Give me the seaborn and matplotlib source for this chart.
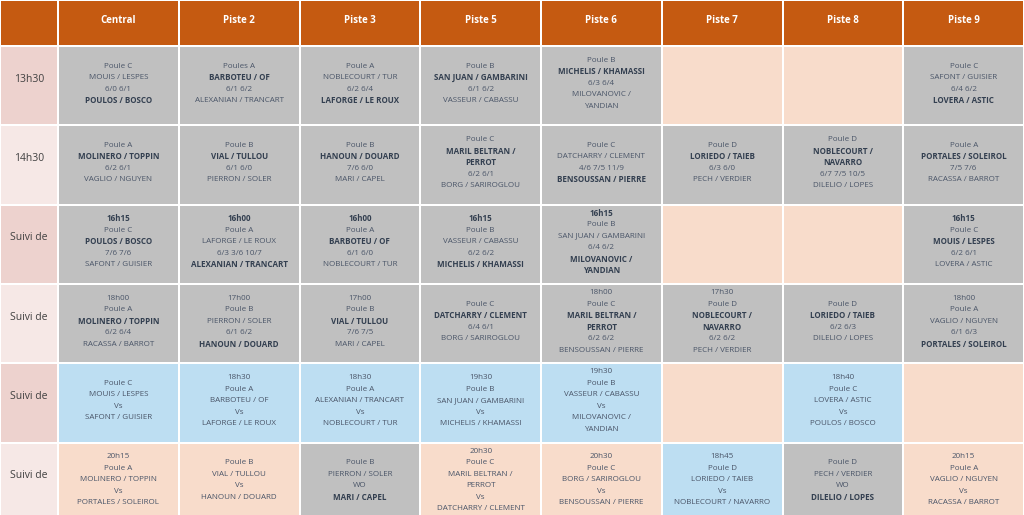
import numpy as np
import pandas as pd
import matplotlib
matplotlib.use("Agg")
import matplotlib.pyplot as plt
from matplotlib.colors import ListedColormap
import seaborn as sns

sns.set_theme(style="white")
plt.rcParams['font.family'] = ['Open Sans', 'DejaVu Sans']

columns = ["Central", "Piste 2", "Piste 3", "Piste 5", "Piste 6", "Piste 7", "Piste 8", "Piste 9"]
row_labels = ["13h30", "14h30", "Suivi de", "Suivi de", "Suivi de", "Suivi de"]

# cell colour codes: 0 grey (played), 1 peach (free / to play), 2 blue (scheduled)
cell_codes = [
    [0, 0, 0, 0, 0, 1, 1, 0],
    [0, 0, 0, 0, 0, 0, 0, 0],
    [0, 0, 0, 0, 0, 1, 1, 0],
    [0, 0, 0, 0, 0, 0, 0, 0],
    [2, 2, 2, 2, 2, 1, 2, 1],
    [1, 1, 0, 1, 1, 2, 0, 1],
]

# "*" prefix marks bold lines
row1 = [
    ["Poule C", "MOUIS / LESPES", "6/0 6/1", "*POULOS / BOSCO"],
    ["Poules A", "*BARBOTEU / OF", "6/1 6/2", "ALEXANIAN / TRANCART"],
    ["Poule A", "NOBLECOURT / TUR", "6/2 6/4", "*LAFORGE / LE ROUX"],
    ["Poule B", "*SAN JUAN / GAMBARINI", "6/1 6/2", "VASSEUR / CABASSU"],
    ["Poule B", "*MICHELIS / KHAMASSI", "6/3 6/4", "MILOVANOVIC /", "YANDIAN"],
    [],
    [],
    ["Poule C", "SAFONT / GUISIER", "6/4 6/2", "*LOVERA / ASTIC"],
]
row2 = [
    ["Poule A", "*MOLINERO / TOPPIN", "6/2 6/1", "VAGLIO / NGUYEN"],
    ["Poule B", "*VIAL / TULLOU", "6/1 6/0", "PIERRON / SOLER"],
    ["Poule B", "*HANOUN / DOUARD", "7/6 6/0", "MARI / CAPEL"],
    ["Poule C", "*MARIL BELTRAN /", "*PERROT", "6/2 6/1", "BORG / SARIROGLOU"],
    ["Poule C", "DATCHARRY / CLEMENT", "4/6 7/5 11/9", "*BENSOUSSAN / PIERRE"],
    ["Poule D", "*LORIEDO / TAIEB", "6/3 6/0", "PECH / VERDIER"],
    ["Poule D", "*NOBLECOURT /", "*NAVARRO", "6/7 7/5 10/5", "DILELIO / LOPES"],
    ["Poule A", "*PORTALES / SOLEIROL", "7/5 7/6", "RACASSA / BARROT"],
]
row3 = [
    ["*16h15", "Poule C", "*POULOS / BOSCO", "7/6 7/6", "SAFONT / GUISIER"],
    ["*16h00", "Poule A", "LAFORGE / LE ROUX", "6/3 3/6 10/7", "*ALEXANIAN / TRANCART"],
    ["*16h00", "Poule A", "*BARBOTEU / OF", "6/1 6/0", "NOBLECOURT / TUR"],
    ["*16h15", "Poule B", "VASSEUR / CABASSU", "6/2 6/2", "*MICHELIS / KHAMASSI"],
    ["*16h15", "Poule B", "SAN JUAN / GAMBARINI", "6/4 6/2", "*MILOVANOVIC /", "*YANDIAN"],
    [],
    [],
    ["*16h15", "Poule C", "*MOUIS / LESPES", "6/2 6/1", "LOVERA / ASTIC"],
]
row4 = [
    ["18h00", "Poule A", "*MOLINERO / TOPPIN", "6/2 6/4", "RACASSA / BARROT"],
    ["17h00", "Poule B", "PIERRON / SOLER", "6/1 6/2", "*HANOUN / DOUARD"],
    ["17h00", "Poule B", "*VIAL / TULLOU", "7/6 7/5", "MARI / CAPEL"],
    ["Poule C", "*DATCHARRY / CLEMENT", "6/4 6/1", "BORG / SARIROGLOU"],
    ["18h00", "Poule C", "*MARIL BELTRAN /", "*PERROT", "6/2 6/2", "BENSOUSSAN / PIERRE"],
    ["17h30", "Poule D", "*NOBLECOURT /", "*NAVARRO", "6/2 6/2", "PECH / VERDIER"],
    ["Poule D", "*LORIEDO / TAIEB", "6/2 6/3", "DILELIO / LOPES"],
    ["18h00", "Poule A", "VAGLIO / NGUYEN", "6/1 6/3", "*PORTALES / SOLEIROL"],
]
row5 = [
    ["Poule C", "MOUIS / LESPES", "Vs", "SAFONT / GUISIER"],
    ["18h30", "Poule A", "BARBOTEU / OF", "Vs", "LAFORGE / LE ROUX"],
    ["18h30", "Poule A", "ALEXANIAN / TRANCART", "Vs", "NOBLECOURT / TUR"],
    ["19h30", "Poule B", "SAN JUAN / GAMBARINI", "Vs", "MICHELIS / KHAMASSI"],
    ["19h30", "Poule B", "VASSEUR / CABASSU", "Vs", "MILOVANOVIC /", "YANDIAN"],
    [],
    ["18h40", "Poule C", "LOVERA / ASTIC", "Vs", "POULOS / BOSCO"],
    [],
]
row6 = [
    ["20h15", "Poule A", "MOLINERO / TOPPIN", "Vs", "PORTALES / SOLEIROL"],
    ["Poule B", "VIAL / TULLOU", "Vs", "HANOUN / DOUARD"],
    ["Poule B", "PIERRON / SOLER", "WO", "*MARI / CAPEL"],
    ["20h30", "Poule C", "MARIL BELTRAN /", "PERROT", "Vs", "DATCHARRY / CLEMENT"],
    ["20h30", "Poule C", "BORG / SARIROGLOU", "Vs", "BENSOUSSAN / PIERRE"],
    ["18h45", "Poule D", "LORIEDO / TAIEB", "Vs", "NOBLECOURT / NAVARRO"],
    ["Poule D", "PECH / VERDIER", "WO", "*DILELIO / LOPES"],
    ["20h15", "Poule A", "VAGLIO / NGUYEN", "Vs", "RACASSA / BARROT"],
]
cells = [row1, row2, row3, row4, row5, row6]

W, H = 1024, 515
fig = plt.figure(figsize=(W / 100, H / 100), dpi=100)
fig.patch.set_facecolor("white")

def rect(x0, y0, x1, y1):
    return [x0 / W, 1 - y1 / H, (x1 - x0) / W, (y1 - y0) / H]

body_top, body_bot = 46, 522
LW = 1.2
hdr_ax0 = fig.add_axes(rect(0, 0, 58, 46))
hdr_ax2 = fig.add_axes(rect(58, 0, W, 46))
rh_ax = fig.add_axes(rect(0, body_top, 58, body_bot))
body_ax = fig.add_axes(rect(58, body_top, W, body_bot))

orange = ListedColormap(["#C55A11"])
sns.heatmap(pd.DataFrame([[0] * 8], columns=columns), ax=hdr_ax2, cmap=orange,
            cbar=False, linewidths=LW, linecolor="white", xticklabels=False, yticklabels=False)
sns.heatmap(pd.DataFrame([[0]]), ax=hdr_ax0, cmap=orange,
            cbar=False, linewidths=LW, linecolor="white", xticklabels=False, yticklabels=False)
for j, c in enumerate(columns):
    hdr_ax2.text(j + 0.5, 0.45, c, ha="center", va="center", color="white",
                 fontsize=7, fontweight="bold")

# row header
rh = pd.DataFrame([[i % 2] for i in range(6)])
sns.heatmap(rh, ax=rh_ax, cmap=ListedColormap(["#EDD2CE", "#F6E8E6"]), cbar=False,
            linewidths=LW, linecolor="white", xticklabels=False, yticklabels=False)
for i, r in enumerate(row_labels):
    rh_ax.text(0.5, i + 0.42, r, ha="center", va="center", color="#404040", fontsize=7.5)

# body
sns.heatmap(pd.DataFrame(cell_codes, columns=columns), ax=body_ax,
            cmap=ListedColormap(["#C0C0C0", "#F8DCCB", "#BDDEF2"]), vmin=-0.5, vmax=2.5,
            cbar=False, linewidths=LW, linecolor="white", xticklabels=False, yticklabels=False)
ls = 0.145
for i, row in enumerate(cells):
    for j, lines in enumerate(row):
        n = len(lines)
        start = i + 0.5 - (n - 1) * ls / 2 - 0.03
        for k, ln in enumerate(lines):
            bold = ln.startswith("*")
            txt = ln[1:] if bold else ln
            body_ax.text(j + 0.5, start + k * ls, txt, ha="center", va="center",
                         fontsize=5.8, color="#333F50" if bold else "#4A5568",
                         fontweight="bold" if bold else "normal")

fig.savefig("out.png", dpi=100, facecolor="white")
